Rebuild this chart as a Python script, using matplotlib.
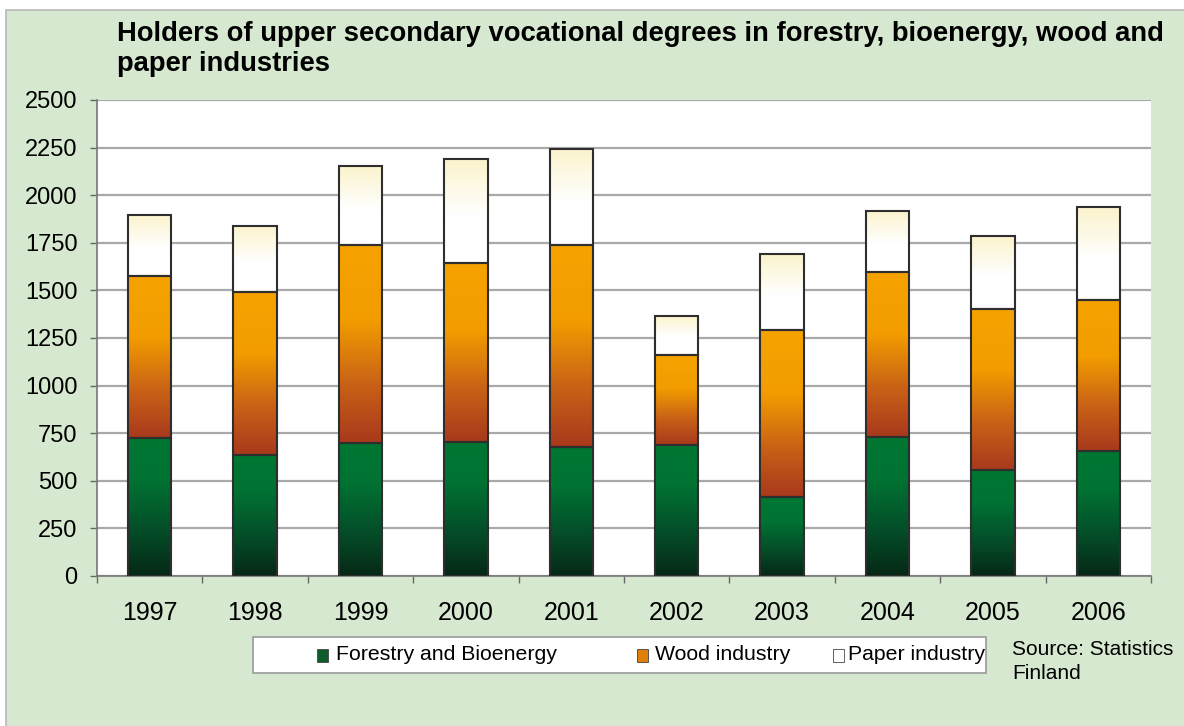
import numpy as np
import matplotlib
matplotlib.use("Agg")
import matplotlib.pyplot as plt
from matplotlib.colors import LinearSegmentedColormap
from matplotlib.patches import Rectangle

plt.rcParams['font.family'] = ['Liberation Sans', 'DejaVu Sans']

years = ['1997', '1998', '1999', '2000', '2001', '2002', '2003', '2004', '2005', '2006']
forestry = [727, 636, 699, 704, 676, 688, 414, 728, 557, 655]
wood = [849, 858, 1039, 940, 1062, 473, 876, 867, 847, 795]
paper = [322, 344, 415, 546, 505, 206, 400, 324, 382, 486]
series_names = ['Forestry and Bioenergy', 'Wood industry', 'Paper industry']

bg = '#d6e8d0'
cmaps = [
    LinearSegmentedColormap.from_list('g', [(0, '#062816'), (0.35, '#04502a'), (0.7, '#007332'), (1, '#007734')]),
    LinearSegmentedColormap.from_list('w', [(0, '#a8391c'), (0.3, '#c96216'), (0.62, '#f29c00'), (1, '#f6a300')]),
    LinearSegmentedColormap.from_list('p', [(0, '#ffffff'), (0.45, '#ffffff'), (1, '#fbf3cc')]),
]
legend_cols = ['#0b5e2c', '#e07f0c', '#ffffff']

fig = plt.figure(figsize=(11.84, 7.26), dpi=100)
fig.patch.set_facecolor('white')
fig.patches.append(Rectangle((6 / 1184, -0.1), 1.2, (726 - 10) / 726 + 0.1, transform=fig.transFigure,
                             facecolor=bg, edgecolor='#b8b8b8', lw=1.2, zorder=-10))

ax = fig.add_axes([97 / 1184, 150 / 726, 1054 / 1184, 476 / 726])
ax.set_facecolor('white')

x = np.arange(len(years))
width = 0.41
bottom = np.zeros(len(years))
grad = np.linspace(0, 1, 256).reshape(-1, 1)
for vals, cm in zip([forestry, wood, paper], cmaps):
    bars = ax.bar(x, vals, width, bottom=bottom, facecolor='none', edgecolor='#2e2e2e', lw=1.5, zorder=4)
    for b in bars:
        x0, y0 = b.get_x(), b.get_y()
        ax.imshow(grad, extent=[x0, x0 + b.get_width(), y0, y0 + b.get_height()], origin='lower',
                  aspect='auto', cmap=cm, zorder=3, interpolation='bilinear')
    bottom = bottom + np.array(vals)

ax.set_xlim(-0.5, 9.5)
ax.set_ylim(0, 2500)
ax.set_yticks(np.arange(0, 2501, 250))
ax.tick_params(axis='y', labelsize=17, length=5, width=1, color='#666666', pad=9)
ax.yaxis.grid(True, color='#a9a9a9', lw=1.6, zorder=1)
ax.set_axisbelow(True)

ax.set_xticks(np.arange(-0.5, 10, 1))
ax.set_xticklabels([])
ax.set_xticks(x, minor=True)
ax.set_xticklabels(years, minor=True)
ax.tick_params(axis='x', which='major', length=5, width=1, color='#666666')
ax.tick_params(axis='x', which='minor', length=0, labelsize=18, pad=18)

for s in ['top', 'right']:
    ax.spines[s].set_visible(False)
for s in ['left', 'bottom']:
    ax.spines[s].set_color('#777777')
    ax.spines[s].set_linewidth(1.2)

fig.text(117 / 1184, 1 - 21 / 726,
         'Holders of upper secondary vocational degrees in forestry, bioenergy, wood and\npaper industries',
         fontsize=19.7, fontweight='bold', va='top', ha='left', linespacing=1.22)

# legend box
fig.patches.append(Rectangle((253 / 1184, 1 - 673 / 726), 733 / 1184, 36 / 726, transform=fig.transFigure,
                             facecolor='white', edgecolor='#999999', lw=1.2, zorder=2))
mx = [317, 637, 833]
tx = [336, 655, 848]
ly = 1 - 655 / 726
for px, t, name, c in zip(mx, tx, series_names, legend_cols):
    fig.patches.append(Rectangle((px / 1184, ly - 6.5 / 726), 11 / 1184, 13 / 726, transform=fig.transFigure,
                                 facecolor=c, edgecolor='#444444', lw=0.6, zorder=3))
    fig.text(t / 1184, ly, name, fontsize=15.3, va='center', ha='left', zorder=4)

fig.text(1012 / 1184, 1 - 640 / 726, 'Source: Statistics\nFinland', fontsize=15, va='top', ha='left',
         linespacing=1.35)

fig.savefig('out.png', dpi=100, facecolor=fig.get_facecolor())
